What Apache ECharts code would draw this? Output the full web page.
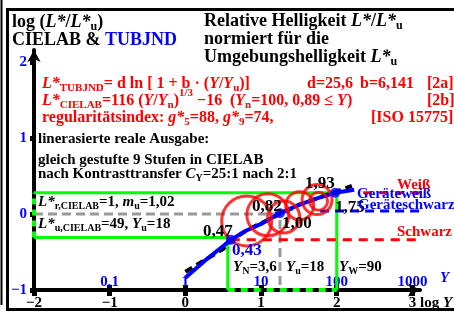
<!DOCTYPE html>
<html>
<head>
<meta charset="utf-8">
<script src="https://cdn.jsdelivr.net/npm/echarts@6/dist/echarts.min.js"></script>
<style>
  html, body { margin: 0; padding: 0; background: #fff; }
  #chart { width: 454px; height: 315px; }
</style>
</head>
<body>
<div id="chart"></div>
<script>
// ticks of the two scales (log Y on x, log L*/L*u on y)
const xTicks = [-2, -1, 0, 1, 2, 3];
const yTicks = [-1, 0, 1, 2];
const yScaleTicks = [-1, 0, 1, 2, 3];
const yScaleLabels = ['0,1', '1', '10', '100', '1000'];

// TUBJND curve
const tubjndCurve = [
  [0, -0.84], [0.25, -0.62], [0.5, -0.42], [0.6, -0.34], [0.8, -0.22],
  [1, -0.13], [1.25, 0.01], [1.5, 0.12], [1.75, 0.21], [1.98, 0.28], [2.23, 0.32]
];
// CIELAB curve (black dashed)
const cielabCurve = [
  [0, -0.76], [0.25, -0.61], [0.5, -0.46], [0.6, -0.35], [0.8, -0.22],
  [1, -0.12], [1.25, 0.0], [1.5, 0.12], [1.75, 0.21], [2, 0.3], [2.2, 0.37]
];
const blueDots = [[0.6, -0.34], [1.25, 0.01], [1.98, 0.28]];
const redRings = [[0.81, -0.09], [1.09, -0.01], [1.30, -0.04], [1.51, 0.11], [1.74, 0.19], [1.76, 0.17]];

// reference levels
const greenTop = [[-2, 0.28], [2, 0.28], [2, -1]];
const greenBottom = [[-2, -0.31], [0.56, -0.31], [0.56, -1]];
const greenLeft = [[-2, -0.31], [-2, 0.28]];
const greenBase = [[0.56, -1], [2, -1]];
const grayRef = [[-2, 0], [1.25, 0], [1.25, -1]];
const blackLevel = [[0.6, -0.34], [3.5, -0.34]];
const whiteLevel = [[2.35, 0.28], [3.5, 0.28]];
const deviceBlack = [[1.78, 0.04], [3.5, 0.04]];

const FONT = 'Liberation Serif';
const RED = '#ff0000';
const BLUE = '#0000ff';
const GREEN = '#00ff00';

function richFor(size) {
  const small = Math.round(size * 0.68);
  return {
    i: { fontFamily: FONT, fontWeight: 'bold', fontStyle: 'italic', fontSize: size },
    s: { fontFamily: FONT, fontWeight: 'bold', fontSize: small, padding: [9, 0, 0, 0] },
    p: { fontFamily: FONT, fontWeight: 'bold', fontSize: small, padding: [0, 0, 16, 0] },
    b: { fontFamily: FONT, fontWeight: 'bold', fontSize: size, fill: BLUE }
  };
}

function label(x, y, text, size, color) {
  return {
    type: 'text', x, y, z: 100,
    style: {
      text, fontFamily: FONT, fontWeight: 'bold', fontSize: size,
      fill: color, verticalAlign: 'middle', rich: richFor(size)
    }
  };
}

function seg(data, color, width, type, z) {
  return {
    type: 'line', data, symbol: 'none', clip: false, z: z || 2,
    lineStyle: { color, width, type: type || 'solid' }
  };
}

const chart = echarts.init(document.getElementById('chart'));

chart.setOption({
  animation: false,
  grid: { left: 34, right: 34, top: 50, bottom: 25, outerBoundsMode: 'none' },
  xAxis: [
    {
      type: 'value', min: -2, max: 3.1, position: 'bottom',
      splitLine: { show: false },
      axisLine: { onZero: false, lineStyle: { color: '#000', width: 4 }, symbol: ['none', 'arrow'], symbolSize: [10, 12] },
      axisTick: { customValues: xTicks, length: 6, lineStyle: { color: '#000', width: 5 } },
      axisLabel: {
        customValues: xTicks, margin: 6, color: '#000',
        fontFamily: FONT, fontWeight: 'bold', fontSize: 15,
        formatter: v => (v < 0 ? '\u2212' + Math.abs(v) : String(v))
      }
    },
    {
      type: 'value', min: -2, max: 3.1, position: 'bottom',
      splitLine: { show: false },
      axisLine: { show: false, onZero: false },
      axisTick: { inside: true, customValues: yScaleTicks, length: 5, lineStyle: { color: '#000', width: 5 } },
      axisLabel: {
        inside: true, customValues: yScaleTicks, margin: 0, color: BLUE,
        fontFamily: FONT, fontWeight: 'bold', fontSize: 15,
        formatter: v => yScaleLabels[yScaleTicks.indexOf(v)]
      }
    }
  ],
  yAxis: {
    type: 'value', min: -1, max: 2.16,
    splitLine: { show: false },
    axisLine: { onZero: false, lineStyle: { color: '#000', width: 4 }, symbol: ['none', 'arrow'], symbolSize: [10, 12] },
    axisTick: { customValues: yTicks, length: 4, lineStyle: { color: '#000', width: 5 } },
    axisLabel: {
      customValues: yTicks, margin: 7, color: BLUE,
      fontFamily: FONT, fontWeight: 'bold', fontSize: 15,
      formatter: v => (v < 0 ? '\u2212' + Math.abs(v) : String(v))
    }
  },
  series: [
    seg(greenTop, GREEN, 3),
    seg(greenBottom, GREEN, 3),
    seg(greenLeft, GREEN, 4, [6, 5], 5),
    seg(greenBase, GREEN, 4, [7, 6], 5),
    seg(grayRef, '#999999', 3, [9, 5]),
    seg(blackLevel, RED, 3, [9, 7]),
    seg(whiteLevel, RED, 3, [9, 7]),
    seg(deviceBlack, BLUE, 3, [9, 6]),
    seg(cielabCurve, '#000', 4, [8, 5], 3),
    seg(tubjndCurve, BLUE, 4, 'solid', 4),
    {
      type: 'scatter', data: redRings, z: 6, symbol: 'circle',
      symbolSize: (v, p) => [50, 42, 32, 28, 30, 18][p.dataIndex],
      itemStyle: { color: 'rgba(0,0,0,0)', borderColor: RED, borderWidth: 3 }
    },
    {
      type: 'scatter', data: blueDots, z: 7, symbolSize: 10,
      itemStyle: { color: BLUE }
    }
  ],
  graphic: [
    // frame
    { type: 'line', shape: { x1: 1.5, y1: 0, x2: 1.5, y2: 305 }, style: { stroke: '#000', lineWidth: 2 } },
    { type: 'rect', shape: { x: 7.5, y: 9.5, width: 460, height: 300 }, style: { fill: 'none', stroke: '#000', lineWidth: 3 } },

    // headers
    label(12, 22, 'log ({i|L*}/{i|L*}{s|u})', 18, '#000'),
    label(12, 40, 'CIELAB & {b|TUBJND}', 18, '#000'),
    label(204, 21, 'Relative Helligkeit {i|L*}/{i|L*}{s|u}', 18, '#000'),
    label(204, 39, 'normiert für die', 18, '#000'),
    label(204, 57, 'Umgebungshelligkeit {i|L*}{s|u}', 18, '#000'),

    // formulas
    label(42, 84, '{i|L*}{s|TUBJND}= d ln [ 1 + b · ({i|Y}/{i|Y}{s|u})]', 16, RED),
    label(307, 84, 'd=25,6', 16, RED),
    label(360, 84, 'b=6,141', 16, RED),
    label(427, 84, '[2a]', 16, RED),
    label(42, 101, '{i|L*}{s|CIELAB}=116 ({i|Y}/{i|Y}{s|n}){p|1/3} \u221216', 16, RED),
    label(230, 101, '({i|Y}{s|n}=100, 0,89 ≤ {i|Y})', 16, RED),
    label(427, 101, '[2b]', 16, RED),
    label(42, 118, 'regularitätsindex: {i|g*}{s|5}=88, {i|g*}{s|9}=74,', 16, RED),
    label(371, 118, '[ISO 15775]', 16, RED),

    // notes
    label(38, 139, 'linerasierte reale Ausgabe:', 15, '#000'),
    label(38, 160, 'gleich gestufte 9 Stufen in CIELAB', 15, '#000'),
    label(38, 174, 'nach Kontrasttransfer {i|C}{s|Y}=25:1 nach 2:1', 15, '#000'),
    label(38, 202, '{i|L*}{s|r,CIELAB}=1, {i|m}{s|u}=1,02', 15, '#000'),
    label(38, 224, '{i|L*}{s|u,CIELAB}=49, {i|Y}{s|u}=18', 15, '#000'),
    label(233, 267, '{i|Y}{s|N}=3,6', 15, '#000'),
    label(286, 267, '{i|Y}{s|u}=18', 15, '#000'),
    label(339, 267, '{i|Y}{s|W}=90', 15, '#000'),

    // values along the curves
    label(203, 232, '0,47', 17, '#000'),
    label(232, 251, '0,43', 17, BLUE),
    label(252, 207, '0,82', 17, '#000'),
    label(282, 224, '1,00', 17, '#000'),
    label(305, 184, '1,93', 17, '#000'),
    label(335, 208, '1,75', 17, '#000'),

    // level names
    label(397, 185, 'Weiß', 15, RED),
    label(357, 194, 'Geräteweiß', 15, BLUE),
    label(358, 205, 'Geräteschwarz', 15, BLUE),
    label(397, 232, 'Schwarz', 15, RED),

    // axis names
    label(440, 278, '{i|Y}', 15, BLUE),
    label(420, 303, 'log {i|Y}', 15, '#000')
  ]
});
</script>
</body>
</html>
